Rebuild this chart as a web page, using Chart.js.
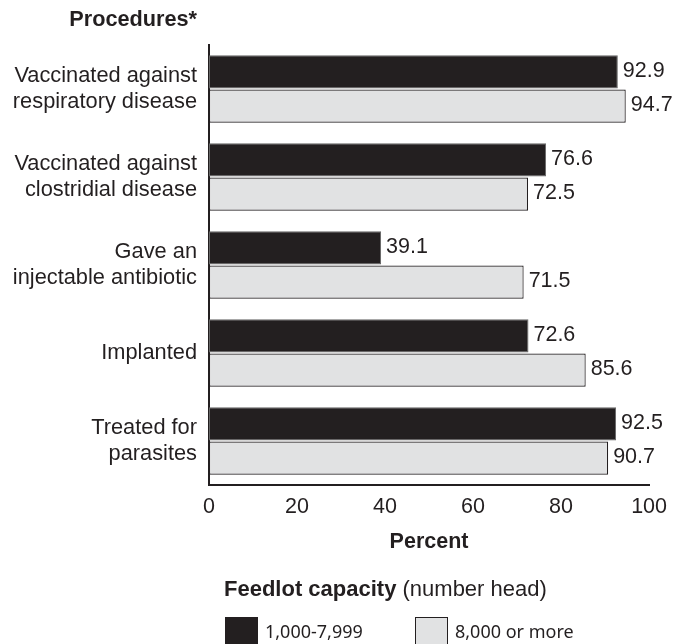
<!DOCTYPE html>
<html>
<head>
<meta charset="utf-8">
<script src="https://cdn.jsdelivr.net/npm/chart.js@4"></script>
<style>
    html, body { margin: 0; padding: 0; background: #fff; }
    #wrap { width: 676px; height: 644px; position: relative; }
</style>
</head>
<body>
<div id="wrap"><canvas id="chart"></canvas></div>
<script>
(function() {
    const procedures = [
        ['Vaccinated against', 'respiratory disease'],
        ['Vaccinated against', 'clostridial disease'],
        ['Gave an', 'injectable antibiotic'],
        'Implanted',
        ['Treated for', 'parasites'],
    ];
    const smallLots = [92.9, 76.6, 39.1, 72.6, 92.5];
    const largeLots = [94.7, 72.5, 71.5, 85.6, 90.7];
    const seriesNames = ['1,000-7,999', '8,000 or more'];
    const percentTicks = [0, 20, 40, 60, 80, 100];

    const ink = '#231f20';
    const grey = '#e1e2e3';
    const sans = 'Arial, "Liberation Sans", sans-serif';

    // value labels at the end of each bar
    const valueLabels = {
        id: 'valueLabels',
        afterDatasetsDraw(chart) {
            let ctx = chart.ctx;
            ctx.save();
            ctx.font = '21.5px ' + sans;
            ctx.fillStyle = ink;
            ctx.textAlign = 'left';
            ctx.textBaseline = 'middle';
            chart.data.datasets.forEach((ds, i) => {
                let meta = chart.getDatasetMeta(i);
                meta.data.forEach((bar, j) => {
                    ctx.fillText(ds.data[j].toFixed(1), bar.x + 5, bar.y - 1);
                });
            });
            ctx.restore();
        },
    };

    // heading above the category labels and the legend underneath
    const extras = {
        id: 'extras',
        afterDraw(chart) {
            let ctx = chart.ctx;
            let area = chart.chartArea;
            ctx.save();
            ctx.fillStyle = ink;
            ctx.textBaseline = 'middle';

            ctx.font = 'bold 21.7px ' + sans;
            ctx.textAlign = 'right';
            ctx.fillText('Procedures*', area.left - 12, 20);

            ctx.textAlign = 'left';
            ctx.font = 'bold 22px ' + sans;
            let head = 'Feedlot capacity';
            ctx.fillText(head, 224, 590);
            let w = ctx.measureText(head).width;
            ctx.font = '22px ' + sans;
            ctx.fillText(' (number head)', 224 + w, 590);

            let boxX = [225, 415];
            chart.data.datasets.forEach((ds, i) => {
                ctx.fillStyle = ds.backgroundColor;
                ctx.fillRect(boxX[i], 617, 33, 34);
                ctx.strokeStyle = ink;
                ctx.lineWidth = 1;
                ctx.strokeRect(boxX[i] + 0.5, 617.5, 32, 33);
                ctx.fillStyle = ink;
                ctx.font = '18px "Noto Sans", sans-serif';
                ctx.fillText(ds.label, boxX[i] + 40, 633);
            });
            ctx.restore();
        },
    };

    new Chart(
        document.getElementById('chart'),
        {
            type: 'bar',
            data: {
                labels: procedures,
                datasets: [
                    {
                        label: seriesNames[0],
                        data: smallLots,
                        backgroundColor: ink,
                        borderColor: '#666',
                        borderWidth: 1,
                        borderSkipped: false,
                    },
                    {
                        label: seriesNames[1],
                        data: largeLots,
                        backgroundColor: grey,
                        borderColor: ink,
                        borderWidth: 1.2,
                        borderSkipped: false,
                    },
                ],
            },
            options: {
                indexAxis: 'y',
                responsive: true,
                maintainAspectRatio: false,
                animation: false,
                categoryPercentage: 0.78,
                barPercentage: 0.97,
                layout: {
                    padding: { top: 45, right: 26, bottom: 89, left: 0 },
                },
                plugins: {
                    legend: { display: false },
                    tooltip: { enabled: false },
                },
                scales: {
                    x: {
                        min: 0,
                        max: 100,
                        afterBuildTicks(axis) {
                            axis.ticks = percentTicks.map(v => ({ value: v }));
                        },
                        afterFit(axis) {
                            axis.height = 70;
                        },
                        grid: { display: false, drawTicks: false },
                        border: { display: true, color: ink, width: 2 },
                        ticks: {
                            color: ink,
                            padding: 9,
                            font: { family: sans, size: 21.5 },
                        },
                        title: {
                            display: true,
                            text: 'Percent',
                            color: ink,
                            padding: { top: 0, bottom: 0 },
                            font: { family: sans, size: 21.5, weight: 'bold' },
                        },
                    },
                    y: {
                        afterFit(axis) {
                            axis.width = 209;
                        },
                        grid: { display: false, drawTicks: false },
                        border: { display: true, color: ink, width: 2 },
                        ticks: {
                            color: ink,
                            padding: 12,
                            autoSkip: false,
                            font: { family: sans, size: 21.8, lineHeight: 1.15 },
                        },
                    },
                },
            },
            plugins: [valueLabels, extras],
        },
    );
})();
</script>
</body>
</html>
